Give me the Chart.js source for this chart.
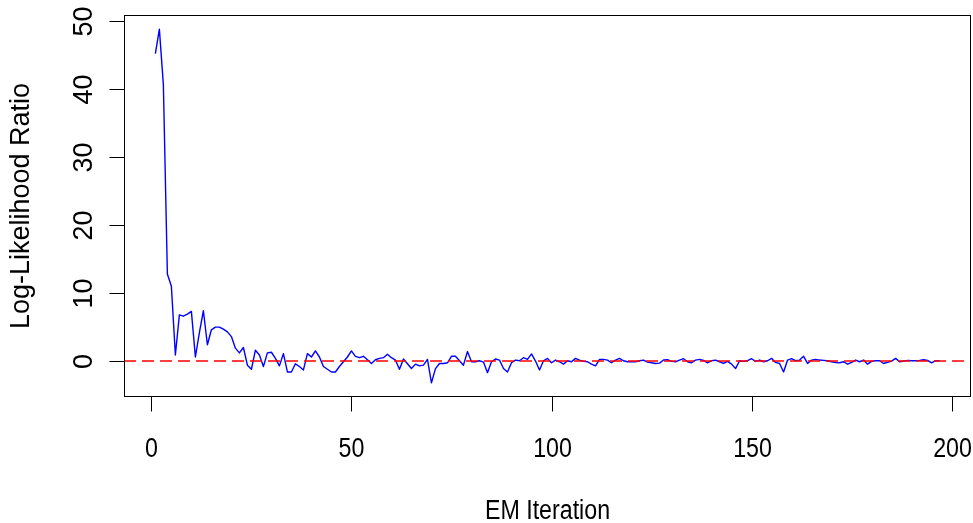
<!DOCTYPE html>
<html>
<head>
<meta charset="utf-8">
<script src="https://cdn.jsdelivr.net/npm/chart.js@4.4.0/dist/chart.umd.min.js"></script>
<style>
  html, body { margin: 0; padding: 0; background: #fff; }
</style>
</head>
<body>
<canvas id="llrChart" width="973" height="523"></canvas>
<script>
// Log-likelihood ratio per EM iteration
const llr = [
  45.2, 48.8, 40.6, 12.8, 11.0, 0.9, 6.8, 6.6, 6.9, 7.3,
  0.6, 4.2, 7.4, 2.4, 4.6, 5.0, 5.0, 4.7, 4.3, 3.6,
  1.9, 1.2, 2.0, -0.6, -1.2, 1.6, 0.9, -0.8, 1.2, 1.3,
  0.4, -0.7, 1.1, -1.6, -1.6, -0.4, -0.8, -1.3, 1.1, 0.6,
  1.5, 0.6, -0.8, -1.2, -1.6, -1.6, -0.8, -0.1, 0.6, 1.5,
  0.7, 0.5, 0.7, 0.2, -0.35, 0.2, 0.4, 0.5, 1.0, 0.5,
  0.15, -1.2, 0.3, -0.4, -1.1, -0.45, -0.7, -0.6, 0.25, -3.2,
  -1.1, -0.35, -0.35, -0.25, 0.7, 0.7, 0.05, -0.6, 1.4, -0.1,
  -0.1, 0.05, -0.15, -1.7, -0.1, 0.3, 0.15, -1.1, -1.6, -0.25,
  0.15, 0.05, 0.5, 0.25, 1.05, 0.0, -1.3, 0.05, 0.4, -0.25,
  0.15, -0.1, -0.45, 0.05, -0.1, 0.4, 0.15, -0.05, -0.1, -0.45,
  -0.7, 0.25, 0.25, 0.15, -0.25, 0.15, 0.4, 0.05, -0.1, -0.1,
  -0.1, 0.05, 0.15, -0.15, -0.25, -0.35, -0.3, 0.15, 0.2, -0.05,
  -0.1, 0.15, 0.35, -0.1, -0.25, 0.15, 0.25, 0.1, -0.25, 0.05,
  0.15, -0.1, -0.35, -0.05, -0.45, -1.1, 0.05, -0.05, 0.05, 0.35,
  -0.05, 0.15, -0.1, 0.05, 0.4, -0.2, -0.35, -1.6, 0.15, 0.35,
  0.05, 0.15, 0.7, -0.35, 0.15, 0.25, 0.15, 0.1, 0.05, -0.1,
  -0.2, -0.25, -0.1, -0.45, -0.2, 0.15, -0.1, 0.15, -0.45, -0.05,
  0.05, 0.05, -0.35, -0.2, 0.0, 0.4, -0.1, 0.0, 0.1, 0.05,
  0.05, 0.1, 0.2, 0.1, -0.25, 0.05, 0.05
];
const iterations = llr.map((v, i) => i + 1);
const refLevel = 0;

const xTicks = [0, 50, 100, 150, 200];
const yTicks = [0, 10, 20, 30, 40, 50];
const xTitle = "EM Iteration";
const yTitle = "Log-Likelihood Ratio";

// R style 4% range extension
function padRange(vals) {
  const lo = Math.min(...vals), hi = Math.max(...vals);
  const p = (hi - lo) * 0.04;
  return [lo - p, hi + p];
}
const [xMin, xMax] = padRange(iterations);
const [yMin, yMax] = padRange(llr);

const FONT = "27px 'Liberation Sans', Arial, sans-serif";
const SQUEEZE = 0.86; // R's text here is a bit narrower than Arial

// horizontal text, narrowed along the reading direction
function hText(ctx, s, x, y) {
  ctx.save();
  ctx.translate(x, y);
  ctx.scale(SQUEEZE, 1);
  ctx.fillText(s, 0, 0);
  ctx.restore();
}
function vText(ctx, s, x, y) {
  ctx.save();
  ctx.translate(x, y);
  ctx.rotate(-Math.PI / 2);
  ctx.fillText(s, 0, 0);
  ctx.restore();
}

// box, ticks and labels drawn the way base R does them
const rAxes = {
  id: "rAxes",
  afterDraw(chart) {
    const { ctx, chartArea: a, scales } = chart;
    ctx.save();
    ctx.strokeStyle = "#000";
    ctx.lineWidth = 1;
    const L = Math.round(a.left) + 0.5, T = Math.round(a.top) + 0.5;
    const R = Math.round(a.right) - 0.5, B = Math.round(a.bottom) - 0.5;
    ctx.strokeRect(L, T, R - L, B - T);

    ctx.font = FONT;
    ctx.fillStyle = "#000";
    ctx.textAlign = "center";
    ctx.textBaseline = "alphabetic";

    xTicks.forEach(function (t) {
      const x = Math.round(scales.x.getPixelForValue(t)) + 0.5;
      ctx.beginPath();
      ctx.moveTo(x, B);
      ctx.lineTo(x, B + 15);
      ctx.stroke();
      hText(ctx, String(t), x, B + 60);
    });

    yTicks.forEach(function (t) {
      const y = Math.round(scales.y.getPixelForValue(t)) + 0.5;
      ctx.beginPath();
      ctx.moveTo(L, y);
      ctx.lineTo(L - 15, y);
      ctx.stroke();
      vText(ctx, String(t), L - 33, y);
    });

    hText(ctx, xTitle, (a.left + a.right) / 2, B + 122);
    vText(ctx, yTitle, L - 96, (a.top + a.bottom) / 2);
    ctx.restore();
  }
};

new Chart(document.getElementById("llrChart"), {
  type: "line",
  data: {
    datasets: [
      {
        label: "reference",
        data: [{ x: xMin, y: refLevel }, { x: xMax, y: refLevel }],
        borderColor: "#ff0000",
        borderWidth: 1.5,
        borderDash: [12, 6],
        pointRadius: 0,
        order: 0,
      },
      {
        label: "LLR",
        data: iterations.map((it, i) => ({ x: it, y: llr[i] })),
        borderColor: "#0000ff",
        borderWidth: 1.4,
        borderJoinStyle: "round",
        pointRadius: 0,
        tension: 0,
        order: 1,
      },
    ],
  },
  options: {
    responsive: false,
    devicePixelRatio: 1,
    animation: false,
    layout: { padding: { left: 124, right: 2, top: 15, bottom: 126 } },
    plugins: { legend: { display: false }, tooltip: { enabled: false } },
    scales: {
      x: { type: "linear", min: xMin, max: xMax, display: false },
      y: { type: "linear", min: yMin, max: yMax, display: false },
    },
  },
  plugins: [rAxes],
});
</script>
</body>
</html>
